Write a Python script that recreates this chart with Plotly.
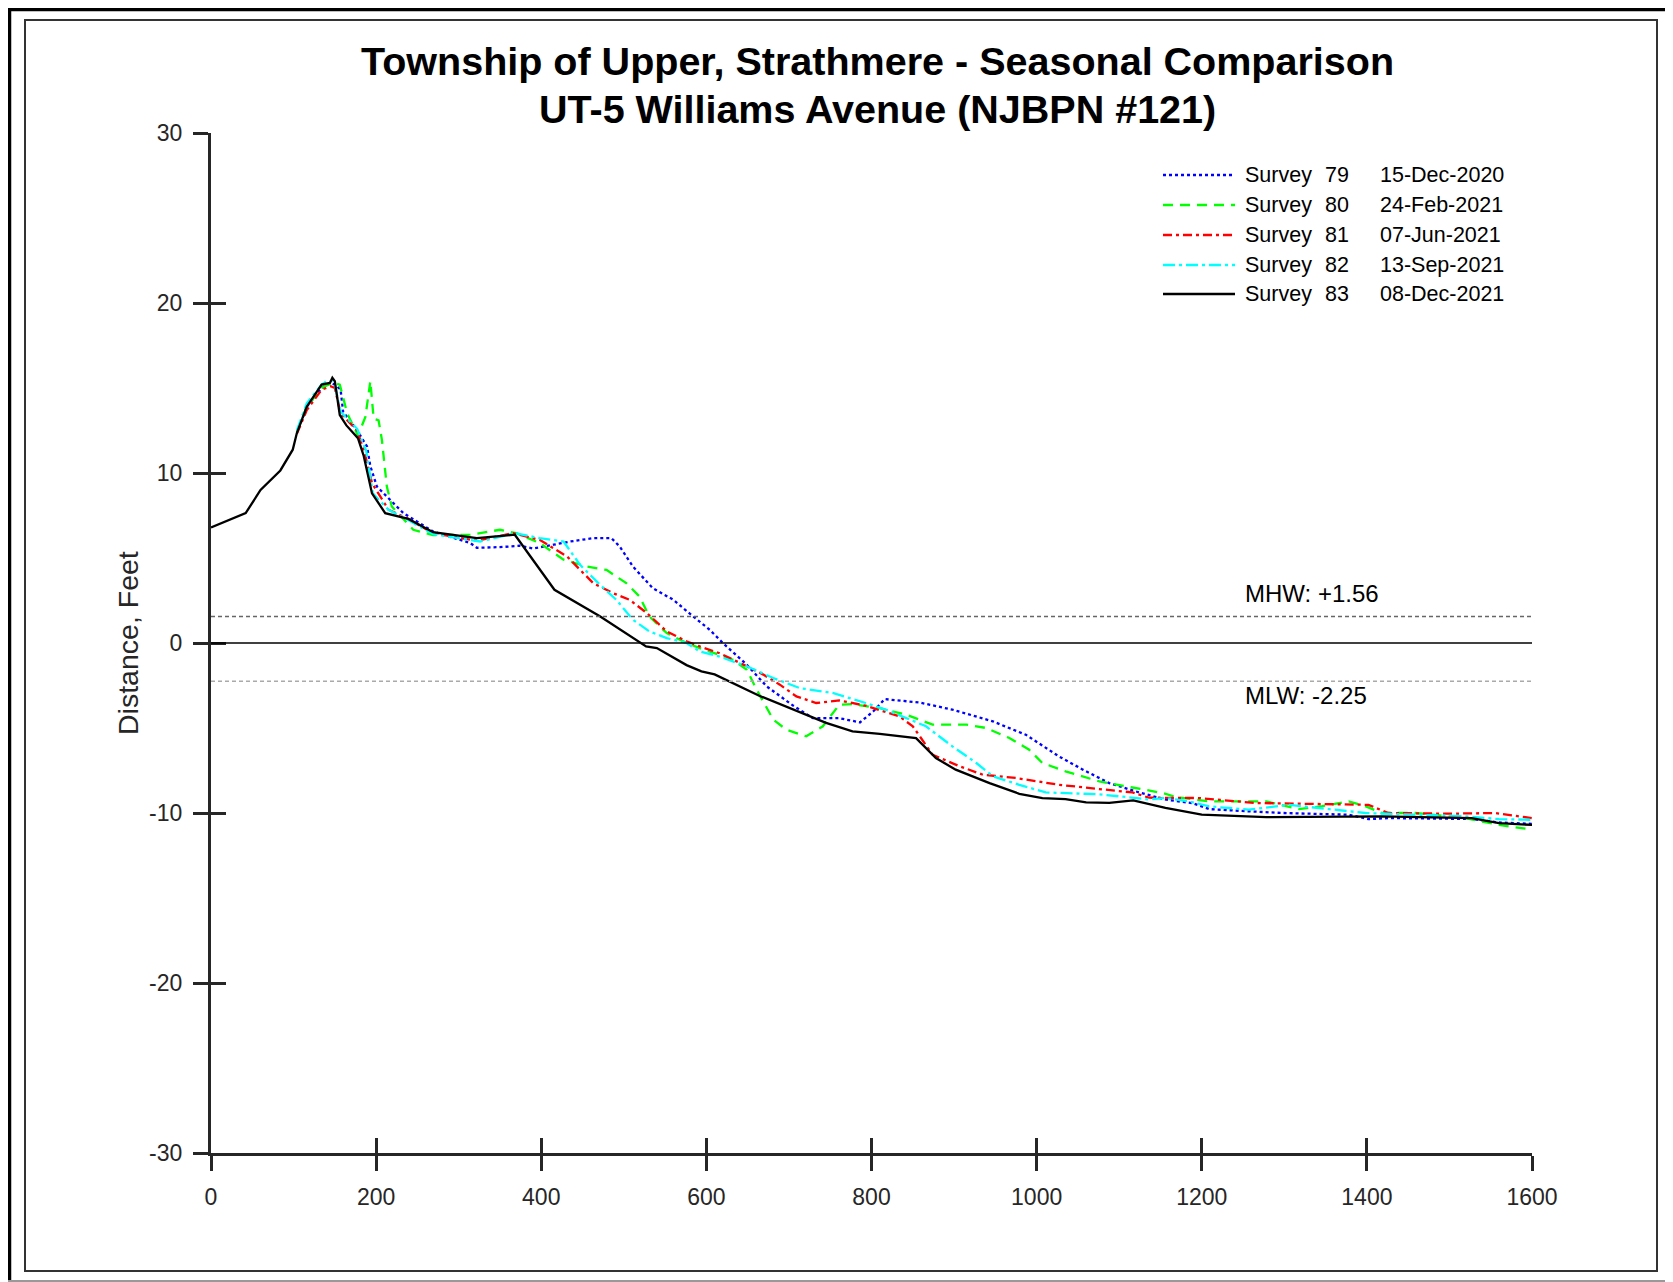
import plotly.graph_objects as go

# ---------------- data ----------------
s79_x = [106, 116, 134, 145, 150, 157, 160, 177, 189, 193, 201, 217, 233, 269, 314, 322, 350, 374, 390, 415,
         435, 463, 485, 495, 511, 535, 560, 584, 604, 620, 649, 673, 705, 729, 761, 786, 802, 816, 858, 898,
         947, 987, 1027, 1056, 1088, 1120, 1157, 1189, 1209, 1257, 1298, 1378, 1402, 1426, 1527, 1560, 1600]
s79_y = [12.6, 13.9, 15.0, 15.3, 15.2, 14.9, 13.6, 12.5, 11.56, 10.4, 9.2, 8.43, 7.64, 6.56, 5.88, 5.6, 5.64, 5.72, 5.56, 5.78,
         5.97, 6.17, 6.17, 5.68, 4.5, 3.23, 2.54, 1.56, 0.78, 0.0, -1.28, -2.55, -3.68, -4.42, -4.42, -4.67, -4.03, -3.3, -3.5, -3.92,
         -4.61, -5.4, -6.67, -7.45, -8.24, -8.73, -9.22, -9.42, -9.77, -9.9, -10.0, -10.1, -10.36, -10.3, -10.35, -10.56, -10.64]

s80_x = [104, 116, 134, 147, 156, 165, 178, 187, 193, 197, 203, 207, 213, 219, 245, 269, 314, 350, 370, 398,
         427, 455, 479, 503, 519, 531, 552, 576, 592, 632, 649, 661, 681, 697, 721, 741, 761, 777, 810, 842,
         874, 915, 939, 967, 991, 1007, 1035, 1076, 1116, 1153, 1169, 1209, 1278, 1318, 1346, 1378, 1398, 1418, 1459, 1519,
         1560, 1600]
s80_y = [12.4, 13.9, 15.0, 15.3, 15.2, 13.5, 12.2, 13.3, 15.4, 13.2, 13.1, 11.95, 9.2, 8.03, 6.66, 6.35, 6.37, 6.66, 6.46, 5.88,
         4.9, 4.5, 4.3, 3.52, 2.74, 1.56, 0.58, 0.0, -0.3, -0.98, -1.57, -2.75, -4.51, -5.1, -5.49, -4.9, -3.63, -3.6, -3.83, -4.22,
         -4.8, -4.8, -5.0, -5.59, -6.28, -7.06, -7.55, -8.14, -8.5, -8.83, -9.06, -9.32, -9.32, -9.77, -9.6, -9.32, -9.6, -10.0, -10.0, -10.3,
         -10.7, -10.98]

s81_x = [104, 116, 134, 145, 150, 157, 177, 186, 195, 215, 237, 269, 322, 366, 398, 431, 463, 487, 507, 528,
         552, 576, 592, 616, 649, 669, 689, 709, 733, 761, 793, 834, 850, 874, 907, 935, 975, 1027, 1076, 1116,
         1136, 1197, 1265, 1338, 1402, 1426, 1499, 1555, 1600]
s81_y = [12.3, 13.7, 14.9, 15.1, 15.0, 13.5, 12.5, 11.2, 9.4, 7.84, 7.35, 6.45, 6.02, 6.46, 6.07, 5.1, 3.52, 2.93, 2.54, 1.76,
         0.68, 0.1, -0.2, -0.6, -1.37, -1.86, -2.45, -3.14, -3.53, -3.38, -3.69, -4.32, -4.9, -6.57, -7.26, -7.75, -7.94, -8.34, -8.59, -8.79,
         -9.1, -9.12, -9.41, -9.46, -9.52, -10.0, -10.04, -10.0, -10.3]

s82_x = [104, 116, 134, 140, 147, 150, 157, 177, 188, 196, 215, 240, 269, 326, 368, 398, 427, 447, 471, 491,
         511, 531, 552, 576, 592, 616, 649, 681, 713, 753, 793, 818, 866, 898, 927, 947, 979, 1011, 1076, 1136,
         1157, 1185, 1209, 1257, 1306, 1358, 1398, 1459, 1519, 1560, 1600]
s82_y = [12.5, 14.1, 15.2, 15.4, 15.4, 15.2, 13.6, 12.6, 11.3, 8.8, 7.84, 7.2, 6.4, 5.97, 6.46, 6.17, 5.97, 4.6, 3.43, 2.54,
         1.37, 0.68, 0.29, 0.0, -0.5, -0.8, -1.37, -2.06, -2.65, -2.94, -3.53, -3.93, -4.9, -6.08, -7.06, -7.84, -8.34, -8.79, -8.9, -9.2,
         -9.12, -9.32, -9.61, -9.8, -9.52, -9.77, -10.0, -10.1, -10.2, -10.36, -10.4]

s83_x = [0, 42, 60, 84, 99, 104, 116, 134, 144, 147, 150, 156, 164, 178, 185, 195, 211, 239, 269, 322,
         368, 378, 416, 471, 527, 540, 576, 594, 610, 664, 705, 745, 777, 810, 854, 878, 902, 943, 979, 1007,
         1035, 1060, 1088, 1117, 1156, 1200, 1278, 1378, 1418, 1527, 1560, 1600]
s83_y = [6.8, 7.64, 9.0, 10.15, 11.37, 12.35, 13.9, 15.2, 15.3, 15.6, 15.4, 13.4, 12.8, 12.05, 11.0, 8.8, 7.64, 7.3, 6.52, 6.17,
         6.37, 5.68, 3.13, 1.57, -0.2, -0.3, -1.3, -1.67, -1.85, -3.1, -3.92, -4.7, -5.2, -5.34, -5.6, -6.77, -7.45, -8.24, -8.87, -9.12,
         -9.18, -9.37, -9.4, -9.26, -9.7, -10.1, -10.24, -10.24, -10.2, -10.3, -10.6, -10.7]

survey_nums = ["79", "80", "81", "82", "83"]
survey_dates = ["15-Dec-2020", "24-Feb-2021", "07-Jun-2021", "13-Sep-2021", "08-Dec-2021"]
MHW = 1.56
MLW = -2.25
x_ticks = [0, 200, 400, 600, 800, 1000, 1200, 1400, 1600]
x_tick_text = ["0", "200", "400", "600", "800", "1000", "1200", "1400", "1600"]
y_ticks = [-30, -20, -10, 0, 10, 20, 30]
y_tick_text = ["-30", "-20", "-10", "0", "10", "20", "30"]

# ---------------- layout geometry ----------------
# The page body has an 8px margin; figure coords = page coords - OFF
OFF = 8
W, H = 1665, 1274
L, T = 211 - OFF, 133 - OFF
R = W - (1532 - OFF)
B = H - (1153 - OFF)
PW, PH = W - L - R, H - T - B

def px(xp):  # page pixel -> paper
    return (xp - OFF - L) / PW

def py(yp):
    return (H - B - (yp - OFF)) / PH

FONT = "Liberation Sans, Arial, sans-serif"
AX = "#262626"

styles = [
    dict(color="#0000FF", dash="dot", width=2.3),
    dict(color="#00FF00", dash="10px,7px", width=2.3),
    dict(color="#FF0000", dash="9px,4px,3px,4px", width=2.3),
    dict(color="#00FFFF", dash="12px,4px,3px,4px", width=2.3),
    dict(color="#000000", dash="solid", width=2.3),
]
series = [(s79_x, s79_y), (s80_x, s80_y), (s81_x, s81_y), (s82_x, s82_y), (s83_x, s83_y)]

fig = go.Figure()
for i, (xs, ys) in enumerate(series):
    fig.add_trace(go.Scatter(x=xs, y=ys, mode="lines", line=styles[i],
                             name=f"Survey {survey_nums[i]} {survey_dates[i]}", showlegend=False))

shapes = []
# reference lines
shapes.append(dict(type="line", xref="x", yref="y", x0=0, x1=1600, y0=MHW, y1=MHW,
                   line=dict(color="#666666", width=1.3, dash="4px,3px")))
shapes.append(dict(type="line", xref="x", yref="y", x0=0, x1=1600, y0=0, y1=0,
                   line=dict(color="#000000", width=1.3)))
shapes.append(dict(type="line", xref="x", yref="y", x0=0, x1=1600, y0=MLW, y1=MLW,
                   line=dict(color="#AAAAAA", width=1.3, dash="4px,3px")))
# frames
shapes.append(dict(type="line", xref="paper", yref="paper", x0=px(8), x1=px(1673), y0=py(9.5), y1=py(9.5),
                   line=dict(color="#000000", width=3.5), layer="above"))
shapes.append(dict(type="line", xref="paper", yref="paper", x0=px(9.5), x1=px(9.5), y0=py(8), y1=py(1282),
                   line=dict(color="#000000", width=3.5), layer="above"))
shapes.append(dict(type="rect", xref="paper", yref="paper", x0=px(25), x1=px(1657), y0=py(20), y1=py(1271),
                   line=dict(color="#333333", width=2), layer="above"))
shapes.append(dict(type="line", xref="paper", yref="paper", x0=px(8), x1=px(1673), y0=py(1281), y1=py(1281),
                   line=dict(color="#999999", width=2), layer="above"))

annotations = []
# title
annotations.append(dict(text="<b>Township of Upper, Strathmere - Seasonal Comparison</b>", xref="paper", yref="paper",
                        x=px(877), y=py(61), xanchor="center", yanchor="middle", showarrow=False,
                        font=dict(family=FONT, size=39.5, color="#000000")))
annotations.append(dict(text="<b>UT-5 Williams Avenue (NJBPN #121)</b>", xref="paper", yref="paper",
                        x=px(877), y=py(109), xanchor="center", yanchor="middle", showarrow=False,
                        font=dict(family=FONT, size=39.5, color="#000000")))
# y-axis title
annotations.append(dict(text="Distance, Feet", xref="paper", yref="paper", x=px(128), y=py(643),
                        xanchor="center", yanchor="middle", textangle=-90, showarrow=False,
                        font=dict(family=FONT, size=28.5, color=AX)))
# tide labels
annotations.append(dict(text="MHW: +1.56", xref="paper", yref="paper", x=px(1243), y=py(593),
                        xanchor="left", yanchor="middle", showarrow=False,
                        font=dict(family=FONT, size=24, color="#000000")))
annotations.append(dict(text="MLW: -2.25", xref="paper", yref="paper", x=px(1243), y=py(695),
                        xanchor="left", yanchor="middle", showarrow=False,
                        font=dict(family=FONT, size=24, color="#000000")))

# manual legend
row_y = [175, 205, 235, 265, 294]
for i in range(5):
    st = styles[i]
    shapes.append(dict(type="line", xref="paper", yref="paper", x0=px(1163), x1=px(1235),
                       y0=py(row_y[i]), y1=py(row_y[i]),
                       line=dict(color=st["color"], width=st["width"], dash=st["dash"])))
    for txt, xp in (("Survey", 1243), (survey_nums[i], 1323), (survey_dates[i], 1378)):
        annotations.append(dict(text=txt, xref="paper", yref="paper", x=px(xp), y=py(row_y[i]),
                                xanchor="left", yanchor="middle", showarrow=False,
                                font=dict(family=FONT, size=21.5, color="#000000")))

tick_common = dict(showgrid=False, zeroline=False, tickcolor=AX, tickwidth=2.5, ticklen=15)

fig.update_layout(
    width=W, height=H,
    margin=dict(l=L, r=R, t=T, b=B, autoexpand=False),
    paper_bgcolor="white", plot_bgcolor="white",
    font=dict(family=FONT, size=23, color=AX),
    xaxis=dict(range=[0, 1600], tickvals=x_ticks, ticktext=x_tick_text, ticks="outside", showline=True,
               linecolor=AX, linewidth=3.2, ticklabelstandoff=6, **tick_common),
    yaxis=dict(range=[-30, 30], tickvals=y_ticks, ticktext=y_tick_text, ticks="outside", showline=True,
               linecolor=AX, linewidth=3.2, ticklabelstandoff=6, **tick_common),
    xaxis2=dict(range=[0, 1600], tickvals=x_ticks, ticks="inside", overlaying="x", anchor="y",
                showticklabels=False, showline=False, **tick_common),
    yaxis2=dict(range=[-30, 30], tickvals=y_ticks, ticks="inside", overlaying="y", anchor="x",
                showticklabels=False, showline=False, **tick_common),
    shapes=shapes,
    annotations=annotations,
)
# invisible trace to activate the overlay axes for inside ticks
fig.add_trace(go.Scatter(x=[0], y=[0], xaxis="x2", yaxis="y2", mode="markers",
                         marker=dict(opacity=0), showlegend=False, hoverinfo="skip"))

fig.write_html("out.html")
